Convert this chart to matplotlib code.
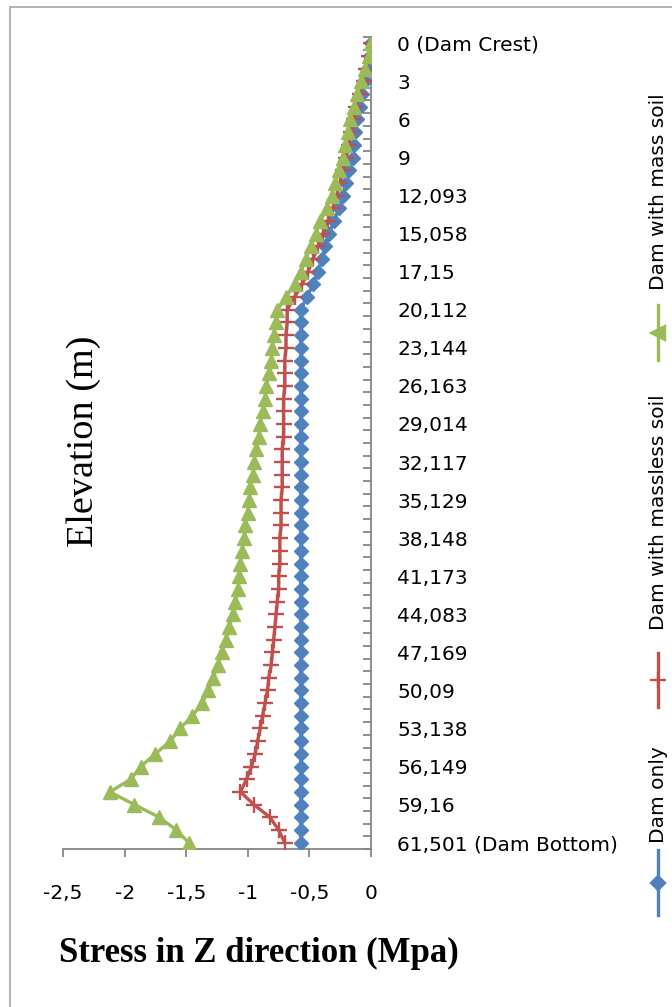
import numpy as np
import matplotlib
matplotlib.use("Agg")
import matplotlib.pyplot as plt
from matplotlib.lines import Line2D
from matplotlib.patches import Rectangle

# elevation labels shown on the category axis (every third node, top to bottom)
elev_labels = ["0 (Dam Crest)", "3", "6", "9", "12,093", "15,058", "17,15", "20,112",
               "23,144", "26,163", "29,014", "32,117", "35,129", "38,148", "41,173",
               "44,083", "47,169", "50,09", "53,138", "56,149", "59,16",
               "61,501 (Dam Bottom)"]
label_step = 3

# stress in Z direction (MPa) at the 64 nodes, crest -> bottom
dam_only = [0.00, -0.01, -0.03, -0.05, -0.07, -0.09, -0.11, -0.13, -0.14, -0.15,
            -0.18, -0.20, -0.23, -0.26, -0.30, -0.34, -0.37, -0.40, -0.43, -0.47,
            -0.52, -0.57, -0.57, -0.57, -0.57, -0.57, -0.57, -0.57, -0.57, -0.57,
            -0.57, -0.57, -0.57, -0.57, -0.57, -0.57, -0.57, -0.57, -0.57, -0.57,
            -0.57, -0.57, -0.57, -0.57, -0.57, -0.57, -0.57, -0.57, -0.57, -0.57,
            -0.57, -0.57, -0.57, -0.57, -0.57, -0.57, -0.57, -0.57, -0.57, -0.57,
            -0.57, -0.57, -0.57, -0.57]
massless_soil = [0.00, -0.02, -0.04, -0.06, -0.09, -0.12, -0.14, -0.16, -0.18, -0.20,
                 -0.23, -0.25, -0.28, -0.31, -0.35, -0.39, -0.43, -0.47, -0.51, -0.56,
                 -0.62, -0.68, -0.68, -0.69, -0.69, -0.70, -0.70, -0.70, -0.71, -0.71,
                 -0.71, -0.71, -0.72, -0.72, -0.72, -0.72, -0.73, -0.73, -0.73, -0.74,
                 -0.74, -0.74, -0.75, -0.75, -0.76, -0.77, -0.78, -0.79, -0.80, -0.81,
                 -0.83, -0.84, -0.86, -0.88, -0.90, -0.92, -0.94, -0.97, -1.01, -1.06,
                 -0.95, -0.82, -0.75, -0.70]
mass_soil = [0.00, -0.02, -0.05, -0.08, -0.11, -0.14, -0.17, -0.19, -0.21, -0.23,
             -0.26, -0.29, -0.32, -0.36, -0.41, -0.45, -0.49, -0.53, -0.57, -0.62,
             -0.69, -0.76, -0.77, -0.79, -0.80, -0.81, -0.83, -0.85, -0.86, -0.88,
             -0.90, -0.91, -0.93, -0.95, -0.96, -0.98, -0.99, -1.00, -1.02, -1.03,
             -1.05, -1.06, -1.07, -1.08, -1.10, -1.12, -1.15, -1.18, -1.21, -1.24,
             -1.28, -1.32, -1.37, -1.45, -1.55, -1.63, -1.75, -1.87, -1.95, -2.12,
             -1.92, -1.72, -1.58, -1.48]

x_ticks = [-2.5, -2, -1.5, -1, -0.5, 0]

BLUE = "#4F81BD"
RED = "#C0504D"
GREEN = "#9BBB59"
AXIS_GREY = "#868686"

W, H = 672, 1007
fig = plt.figure(figsize=(W / 100, H / 100), dpi=100)

# outer chart border
fig.add_artist(Rectangle((10 / W, -0.1), 1.2, 1 - 7 / H + 0.1, transform=fig.transFigure,
                         fill=False, edgecolor="#a6a6a6", linewidth=1.2))

ax = fig.add_axes([63 / W, 1 - 849 / H, 308 / W, 812 / H])

n = len(dam_only)
pos = np.arange(n)

ax.plot(dam_only, pos, color=BLUE, lw=2.4, marker="D", ms=7.5, zorder=3)
ax.plot(massless_soil, pos, color=RED, lw=2.4, marker="+", ms=12, mew=1.7, zorder=4)
ax.plot(mass_soil, pos, color=GREEN, lw=2.4, marker="^", ms=9.5, zorder=5)

ax.set_xlim(-2.5, 0)
ax.set_ylim(n - 0.5, -0.5)

for s in ["left", "top"]:
    ax.spines[s].set_visible(False)
for s in ["right", "bottom"]:
    ax.spines[s].set_color(AXIS_GREY)
    ax.spines[s].set_linewidth(1.3)

ax.set_xticks(x_ticks)
ax.set_xticklabels([("%g" % v).replace(".", ",") for v in x_ticks])
ax.tick_params(axis="x", direction="out", length=6, width=1.3, color=AXIS_GREY,
               pad=19, labelsize=14.5)

# category ticks between nodes, labels on every third node
ax.yaxis.tick_right()
ax.set_yticks(np.arange(-0.5, n, 1))
ax.set_yticklabels([])
ax.set_yticks(pos[::label_step], minor=True)
ax.set_yticklabels(elev_labels, minor=True)
ax.tick_params(axis="y", which="major", direction="in", length=6, width=1.3,
               color=AXIS_GREY)
ax.tick_params(axis="y", which="minor", length=0, pad=19, labelsize=14.5)

fig.text(259 / W, 1 - 953 / H, "Stress in Z direction (Mpa)", family="Liberation Serif",
         weight="bold", fontsize=25, ha="center", va="center")
fig.text(84 / W, 1 - 441 / H, "Elevation (m)", family="Liberation Serif",
         fontsize=27.5, rotation=90, ha="center", va="center")

# vertical legend on the right
legend_items = [("Dam only", BLUE, "D", 7.5, 850, 915, 843),
                ("Dam with massless soil", RED, "+", 12, 653, 707, 630),
                ("Dam with mass soil", GREEN, "<", 9.5, 305, 360, 290)]
lx = 658 / W
for name, col, mk, ms, y0, y1, ty in legend_items:
    fig.add_artist(Line2D([lx, lx], [1 - y0 / H, 1 - y1 / H], color=col, lw=2.4,
                          transform=fig.transFigure))
    fig.add_artist(Line2D([lx], [1 - (y0 + y1) / 2 / H], color=col, marker=mk, ms=ms,
                          mew=1.7, transform=fig.transFigure))
    fig.text(lx, 1 - ty / H, name, rotation=90, ha="center", va="bottom", fontsize=14.5)

fig.savefig("out.png", dpi=100)
